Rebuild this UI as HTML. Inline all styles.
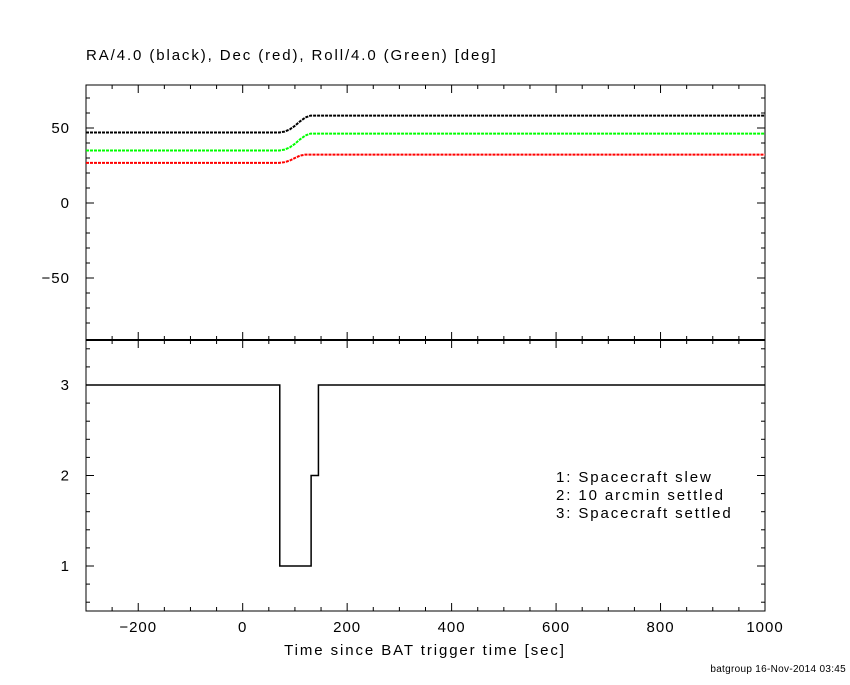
<!DOCTYPE html>
<html><head><meta charset="utf-8"><style>
body{margin:0;background:#fff}
svg text{font-family:"Liberation Sans",sans-serif;font-size:15px;fill:#000;letter-spacing:1px}
svg text.w{letter-spacing:1.9px}
</style></head><body>
<svg id="c" width="850" height="680" xmlns="http://www.w3.org/2000/svg">
<text class="w" x="86" y="60">RA/4.0 (black), Dec (red), Roll/4.0 (Green) [deg]</text>
<text class="w" x="425" y="655" text-anchor="middle">Time since BAT trigger time [sec]</text>
<text x="846" y="672" text-anchor="end" style="font-size:10px;letter-spacing:0.3px">batgroup 16-Nov-2014 03:45</text>
<g>
<text class="w" x="556" y="482">1: Spacecraft slew</text>
<text class="w" x="556" y="500">2: 10 arcmin settled</text>
<text class="w" x="556" y="518">3: Spacecraft settled</text>
</g>
<g id="g"></g>
</svg>
<script>
const times=[-300,70,80,90,100,110,120,130,135,1000];
const raVals=[47,47,47.6,49,51.5,54.5,57,58.3,58.3,58.3];
const rollVals=[35,35,35.6,37,39.5,42.5,45,46.3,46.3,46.3];
const decVals=[26.7,26.7,27.2,28.3,30,31.6,32.3,32.3,32.3,32.3];
const stepTimes=[-300,71,131,145,1000];
const stepVals=[3,1,2,3,3];
const xTicks=[-200,0,200,400,600,800,1000];
const yTopTicks=[-50,0,50];
const yBotTicks=[1,2,3];
const NS='http://www.w3.org/2000/svg';
const g=document.getElementById('g');
const X0=86,X1=765;
const xs=t=>X0+(t+300)/1300*(X1-X0);
const yT=v=>203-v*1.5;
const yB=v=>385-(v-3)*90.5;
function el(tag,a){const e=document.createElementNS(NS,tag);for(const k in a)e.setAttribute(k,a[k]);g.appendChild(e);return e;}
let f=el('rect',{x:X0,y:85,width:X1-X0,height:255,fill:'none',stroke:'#000','stroke-width':1});


f=el('rect',{x:X0,y:340,width:X1-X0,height:271,fill:'none',stroke:'#000','stroke-width':1});


let sep=el('line',{x1:X0,x2:X1,y1:340,y2:340,stroke:'#000','stroke-width':2});


for(let t=-250;t<1000;t+=50){const big=t%200===0;const L=big?8:4;const x=xs(t);
 for(const [a,b] of [[85,85+L],[340-L,340],[340,340+L],[611-L,611]]){const l=el('line',{x1:x,x2:x,y1:a,y2:b,stroke:'#000'});
 
 }}
xTicks.forEach(t=>{const tx=el('text',{x:xs(t),y:632,'text-anchor':'middle'});tx.textContent=t<0?'\u2212'+(-t):t;
 
 });
for(let v=-80;v<=70;v+=10){const big=v%50===0;const L=big?8:4;const y=yT(v);
 for(const [a,b] of [[X0,X0+L],[X1-L,X1]]){const l=el('line',{x1:a,x2:b,y1:y,y2:y,stroke:'#000'});
 
 }}
yTopTicks.forEach(v=>{const tx=el('text',{x:70,y:yT(v)+5,'text-anchor':'end'});tx.textContent=v<0?'\u2212'+(-v):v;
 
 });
for(let v=0.6;v<=3.45;v+=0.2){const big=Math.abs(v-Math.round(v))<0.01;const L=big?8:4;const y=yB(v);
 for(const [a,b] of [[X0,X0+L],[X1-L,X1]]){const l=el('line',{x1:a,x2:b,y1:y,y2:y,stroke:'#000'});
 
 }}
yBotTicks.forEach(v=>{const tx=el('text',{x:70,y:yB(v)+5,'text-anchor':'end'});tx.textContent=v;
 
 });
function series(vals,color,name){const d=times.map((t,i)=>(i?'L':'M')+xs(t).toFixed(1)+','+yT(vals[i]).toFixed(1)).join('');
 const p=el('path',{d,fill:'none',stroke:color,'stroke-width':2,'stroke-dasharray':'3,1'});
 
 }
series(raVals,'#000','ra-line');
series(rollVals,'#00ff00','roll-line');
series(decVals,'#ff0000','dec-line');
let d='';stepTimes.forEach((t,i)=>{if(i===0)d='M'+xs(t)+','+yB(stepVals[0]);else d+='H'+xs(t)+'V'+yB(stepVals[i]);});
const s=el('path',{d,fill:'none',stroke:'#000','stroke-width':1.5});


</script>
</body></html>
